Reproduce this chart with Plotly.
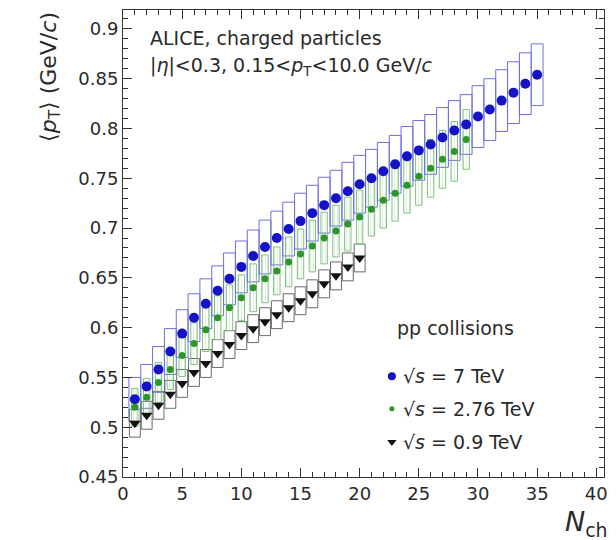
import plotly.graph_objects as go

# Mean transverse momentum vs charged multiplicity, pp collisions
nch_7 = list(range(1, 36))
mean_pt_7 = [0.528, 0.541, 0.558, 0.576, 0.594, 0.610, 0.624, 0.637, 0.649, 0.661,
             0.672, 0.681, 0.690, 0.699, 0.707, 0.715, 0.723, 0.730, 0.737, 0.744,
             0.750, 0.757, 0.764, 0.772, 0.778, 0.784, 0.791, 0.798, 0.804, 0.812,
             0.819, 0.828, 0.836, 0.845, 0.854]
sys_7 = [0.022, 0.022, 0.023, 0.023, 0.024, 0.024, 0.025, 0.025, 0.026, 0.026,
         0.026, 0.027, 0.027, 0.027, 0.028, 0.028, 0.028, 0.028, 0.029, 0.029,
         0.029, 0.029, 0.029, 0.030, 0.030, 0.030, 0.030, 0.030, 0.030, 0.031,
         0.031, 0.031, 0.031, 0.031, 0.031]

nch_276 = list(range(1, 30))
mean_pt_276 = [0.520, 0.530, 0.545, 0.558, 0.572, 0.584, 0.598, 0.610, 0.620, 0.630,
               0.640, 0.649, 0.657, 0.666, 0.674, 0.682, 0.690, 0.697, 0.704, 0.711,
               0.719, 0.728, 0.735, 0.743, 0.752, 0.760, 0.769, 0.777, 0.789]
sys_276 = [0.019, 0.019, 0.020, 0.020, 0.021, 0.021, 0.022, 0.022, 0.023, 0.023,
           0.024, 0.024, 0.024, 0.025, 0.025, 0.026, 0.026, 0.026, 0.027, 0.027,
           0.027, 0.028, 0.028, 0.028, 0.029, 0.029, 0.029, 0.030, 0.030]

nch_09 = list(range(1, 21))
mean_pt_09 = [0.504, 0.512, 0.522, 0.533, 0.544, 0.555, 0.564, 0.574, 0.583, 0.592,
              0.599, 0.606, 0.613, 0.620, 0.627, 0.634, 0.644, 0.652, 0.661, 0.670]
sys_09 = [0.014, 0.014, 0.014, 0.014, 0.014, 0.014, 0.014, 0.014, 0.014, 0.014,
          0.014, 0.014, 0.014, 0.014, 0.014, 0.014, 0.014, 0.014, 0.014, 0.014]

x_ticks = [0, 5, 10, 15, 20, 25, 30, 35, 40]
x_tick_labels = ["0", "5", "10", "15", "20", "25", "30", "35", "40"]
y_ticks = [0.45, 0.5, 0.55, 0.6, 0.65, 0.7, 0.75, 0.8, 0.85, 0.9]
y_tick_labels = ["0.45", "0.5", "0.55", "0.6", "0.65", "0.7", "0.75", "0.8", "0.85", "0.9"]

legend_labels = ["√<i>s</i> = 7 TeV", "√<i>s</i> = 2.76 TeV", "√<i>s</i> = 0.9 TeV"]

FONT = "DejaVu Sans"
TXT = "#2a2a2a"
X_RANGE = [0, 40.65]
Y_RANGE = [0.45, 0.919]


def box_outline(xs, ys, errs, half_w):
    """Closed rectangles (separated by None) for systematic-uncertainty boxes."""
    bx, by = [], []
    for x, y, e in zip(xs, ys, errs):
        bx += [x - half_w, x + half_w, x + half_w, x - half_w, x - half_w, None]
        by += [y - e, y - e, y + e, y + e, y - e, None]
    return bx, by


fig = go.Figure()

# systematic boxes
bx, by = box_outline(nch_7, mean_pt_7, sys_7, 0.5)
fig.add_trace(go.Scatter(x=bx, y=by, mode="lines", line=dict(color="#6f6fe0", width=1),
                         hoverinfo="skip", showlegend=False))
bx, by = box_outline(nch_09, mean_pt_09, sys_09, 0.46)
fig.add_trace(go.Scatter(x=bx, y=by, mode="lines", line=dict(color="#6a6a6a", width=1),
                         hoverinfo="skip", showlegend=False))
bx, by = box_outline(nch_276, mean_pt_276, sys_276, 0.27)
fig.add_trace(go.Scatter(x=bx, y=by, mode="lines", fill="toself",
                         fillcolor="rgba(255,255,255,0)",
                         fillpattern=dict(shape="|", fgcolor="rgba(90,180,90,0.55)",
                                          size=3, solidity=0.25),
                         line=dict(color="#7cc47c", width=1),
                         hoverinfo="skip", showlegend=False))

# data points
fig.add_trace(go.Scatter(x=nch_7, y=mean_pt_7, mode="markers",
                         marker=dict(symbol="circle", size=10, color="#1414c4"),
                         showlegend=False))
fig.add_trace(go.Scatter(x=nch_276, y=mean_pt_276, mode="markers",
                         marker=dict(symbol="circle", size=7, color="#2c962c"),
                         showlegend=False))
fig.add_trace(go.Scatter(x=nch_09, y=mean_pt_09, mode="markers",
                         marker=dict(symbol="triangle-down", size=10, color="#111111"),
                         showlegend=False))

# legend keys on an overlay axis in frame-fraction units
key_x = 0.559
key_y = [0.216, 0.146, 0.075]
key_styles = [dict(symbol="circle", size=8, color="#1414c4"),
              dict(symbol="circle", size=5, color="#2c962c"),
              dict(symbol="triangle-down", size=8, color="#111111")]
for ky, st in zip(key_y, key_styles):
    fig.add_trace(go.Scatter(x=[key_x], y=[ky], mode="markers", marker=st,
                             xaxis="x2", yaxis="y2", showlegend=False,
                             hoverinfo="skip"))

axis_common = dict(showline=True, linecolor="#333333", linewidth=1, mirror="ticks",
                   ticks="inside", ticklen=9, tickwidth=1, tickcolor="#333333",
                   showgrid=False, zeroline=False,
                   tickfont=dict(family=FONT, size=18, color=TXT))

fig.update_layout(
    width=616, height=540,
    margin=dict(l=123, r=8, t=10, b=63),
    paper_bgcolor="white", plot_bgcolor="white",
    font=dict(family=FONT, color=TXT),
    xaxis=dict(range=X_RANGE, tickvals=x_ticks, ticktext=x_tick_labels,
               minor=dict(dtick=1, ticks="inside", ticklen=5, tickcolor="#333333"),
               **axis_common),
    yaxis=dict(range=Y_RANGE, tickvals=y_ticks, ticktext=y_tick_labels,
               minor=dict(dtick=0.01, tick0=0.45, ticks="inside", ticklen=5,
                          tickcolor="#333333"),
               **axis_common),
    xaxis2=dict(range=[0, 1], overlaying="x", visible=False),
    yaxis2=dict(range=[0, 1], overlaying="y", visible=False),
)

annotations = [
    dict(text="ALICE, charged particles", x=0.0515, y=0.940),
    dict(text="|<i>η</i>|<0.3, 0.15<<i>p</i><sub>T</sub><10.0 GeV/<i>c</i>", x=0.0515, y=0.878),
    dict(text="pp collisions", x=0.565, y=0.319),
    dict(text=legend_labels[0], x=0.577, y=key_y[0]),
    dict(text=legend_labels[1], x=0.577, y=key_y[1]),
    dict(text=legend_labels[2], x=0.577, y=key_y[2]),
]
for a in annotations:
    fig.add_annotation(xref="paper", yref="paper", xanchor="left", yanchor="middle",
                       showarrow=False, font=dict(family=FONT, size=19, color=TXT), **a)

# axis titles
fig.add_annotation(text="⟨<i>p</i><sub>T</sub>⟩ (GeV/<i>c</i>)", textangle=-90,
                   xref="paper", yref="paper", x=-0.152, y=1.0,
                   xanchor="center", yanchor="top", showarrow=False,
                   font=dict(family=FONT, size=22, color=TXT))
fig.add_annotation(text="<i>N</i><sub>ch</sub>",
                   xref="paper", yref="paper", x=1.012, y=-0.10,
                   xanchor="right", yanchor="middle", showarrow=False,
                   font=dict(family=FONT, size=27, color=TXT))

fig.write_html("out.html")
